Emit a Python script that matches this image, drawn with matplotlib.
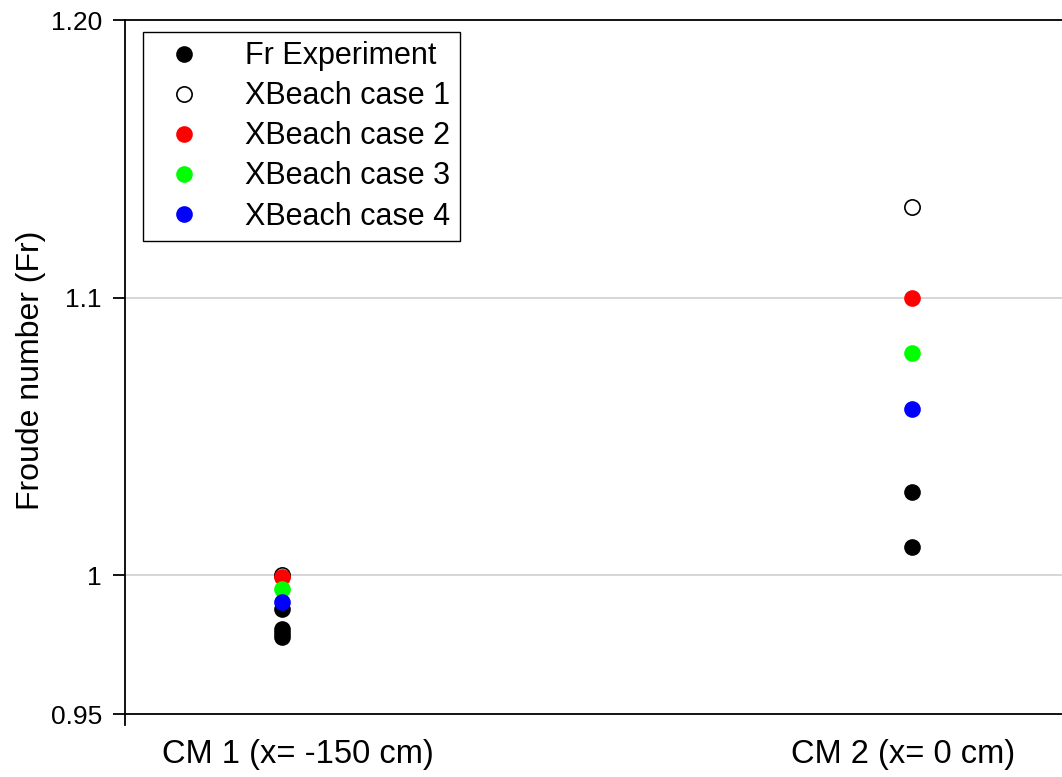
import numpy as np
import matplotlib.pyplot as plt

plt.rcParams["font.family"] = ["Liberation Sans", "DejaVu Sans"]

# Froude numbers at the two measurement points
locations = ["CM 1 (x= -150 cm)", "CM 2 (x= 0 cm)"]
fr_exp_cm1 = [0.9878, 0.9808, 0.9792, 0.9777]
fr_exp_cm2 = [1.030, 1.010]
case1 = [1.000, 1.1326]
case2 = [0.9993, 1.100]
case3 = [0.9952, 1.080]
case4 = [0.9903, 1.060]

yticks = [0.95, 1.0, 1.1, 1.2]
ytick_labels = ["0.95", "1", "1.1", "1.20"]

fig = plt.figure(figsize=(10.62, 7.77), dpi=100)
ax = fig.add_axes([0.1177, 0.0669, 0.8823, 0.9073])

x_pos = np.array([1.0, 2.0])
ms = 12

exp_x = [x_pos[0]] * len(fr_exp_cm1) + [x_pos[1]] * len(fr_exp_cm2)
ax.plot(exp_x, fr_exp_cm1 + fr_exp_cm2, "o", color="black", ms=ms, mew=0,
        label="Fr Experiment", zorder=3)
ax.plot(x_pos, case1, "o", mfc="white", mec="black", mew=1.2, ms=ms - 1,
        label="XBeach case 1", zorder=3)
ax.plot(x_pos, case2, "o", color="#ff0000", ms=ms, mew=0, label="XBeach case 2", zorder=3)
ax.plot(x_pos, case3, "o", color="#00ff00", ms=ms, mew=0, label="XBeach case 3", zorder=3)
ax.plot(x_pos, case4, "o", color="#0000ff", ms=ms, mew=0, label="XBeach case 4", zorder=3)

ax.set_xlim(0.751, 2.238)
ax.set_ylim(0.94604, 1.2)

# horizontal grid lines inside the frame
for g in [1.0, 1.1]:
    ax.axhline(g, color="#cfcfcf", lw=1.2, zorder=1)

ax.set_yticks(yticks)
ax.set_yticklabels(ytick_labels)
ax.tick_params(axis="y", direction="out", length=8.6, width=1.3, pad=8,
               labelsize=19)

ax.set_xticks([1.025, 1.986])
ax.set_xticklabels(locations)
ax.tick_params(axis="x", length=0, pad=18, labelsize=23.5)

ax.spines["right"].set_visible(False)
ax.spines["bottom"].set_position(("data", 0.95))
for s in ["left", "bottom", "top"]:
    ax.spines[s].set_linewidth(1.3)
    ax.spines[s].set_color("black")

ax.set_ylabel("Froude number (Fr)", fontsize=23)
ax.yaxis.set_label_coords(-0.084, 0.5035)

leg = ax.legend(loc="upper left", bbox_to_anchor=(0.0192, 0.983),
                borderaxespad=0, fontsize=22, frameon=True, fancybox=False,
                framealpha=1, edgecolor="black", borderpad=0.3,
                handlelength=2.1, handletextpad=0.95, labelspacing=0.33)
leg.get_frame().set_linewidth(1.0)

fig.savefig("out.png", dpi=100)
